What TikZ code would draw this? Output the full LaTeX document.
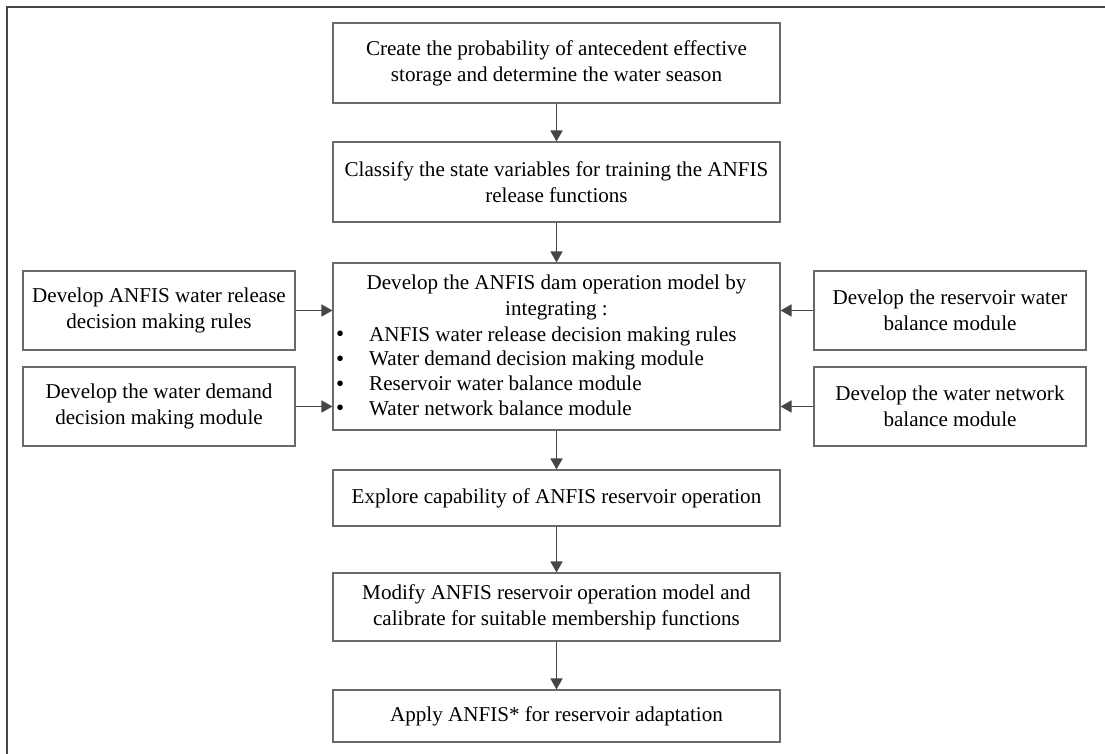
\documentclass[tikz,border=0pt]{standalone}
\usepackage{fontspec}
\setmainfont{Liberation Serif}
\usetikzlibrary{arrows.meta}
\definecolor{boxline}{HTML}{6A6A6A}
\definecolor{arrowline}{HTML}{454545}
\begin{document}
\begin{tikzpicture}[x=1pt,y=-1pt,
  every node/.style={font=\fontsize{21.1}{26}\selectfont},
  stepbox/.style={draw=boxline, line width=1.1pt, fill=white, align=center, inner sep=0pt},
  mainbox/.style={stepbox, minimum width=447pt},
  sidebox/.style={stepbox, minimum width=272pt, minimum height=79pt},
  flow/.style={draw=arrowline, line width=1.6pt, -{Triangle[length=11pt,width=12pt]}},
  plain/.style={inner sep=0pt, anchor=base west}]
\useasboundingbox (0,0) rectangle (1105,754);
% outer frame (open on the right and bottom)
\draw[arrowline, line width=1.2pt] (7,754) -- (7,7) -- (1105,7);

% main column
\node[mainbox, minimum height=80pt] (b1) at (556.5,63)
  {Create the probability of antecedent effective\\storage and determine the water season};
\node[mainbox, minimum height=80pt] (b2) at (556.5,182)
  {Classify the state variables for training the ANFIS\\release functions};
\node[mainbox, minimum height=167pt] (b3) at (556.5,346.5) {};
\node[mainbox, minimum height=56pt] (b4) at (556.5,498)
  {Explore capability of ANFIS reservoir operation};
\node[mainbox, minimum height=68pt] (b5) at (556.5,607)
  {Modify ANFIS reservoir operation model and\\calibrate for suitable membership functions};
\node[mainbox, minimum height=52pt] (b6) at (556.5,716)
  {Apply ANFIS* for reservoir adaptation};

% contents of the integrating box
\node[align=center, inner sep=0pt] (b3title) at (556.5,297)
  {Develop the ANFIS dam operation model by\\integrating :};
\foreach \t [count=\i] in {ANFIS water release decision making rules,
                          Water demand decision making module,
                          Reservoir water balance module,
                          Water network balance module}{
  \node[plain] (dot\i) at (336,{341+24.7*(\i-1)}) {\raisebox{-0.8pt}{\scalebox{1.1}{•}}};
  \node[plain] (item\i) at (369,{341+24.7*(\i-1)}) {\t};
}

% side modules
\node[sidebox] (l1) at (159,310.5) {Develop ANFIS water release\\decision making rules};
\node[sidebox] (l2) at (159,406.5) {Develop the water demand\\decision making module};
\node[sidebox] (r1) at (950,310.5) {Develop the reservoir water\\balance module};
\node[sidebox] (r2) at (950,406.5) {Develop the water network\\balance module};

% connectors
\draw[flow] (b1) -- (b2);
\draw[flow] (b2) -- (b3);
\draw[flow] (b3) -- (b4);
\draw[flow] (b4) -- (b5);
\draw[flow] (b5) -- (b6);
\draw[flow] (l1.east) -- (l1.east -| b3.west);
\draw[flow] (l2.east) -- (l2.east -| b3.west);
\draw[flow] (r1.west) -- (r1.west -| b3.east);
\draw[flow] (r2.west) -- (r2.west -| b3.east);
\end{tikzpicture}
\end{document}
